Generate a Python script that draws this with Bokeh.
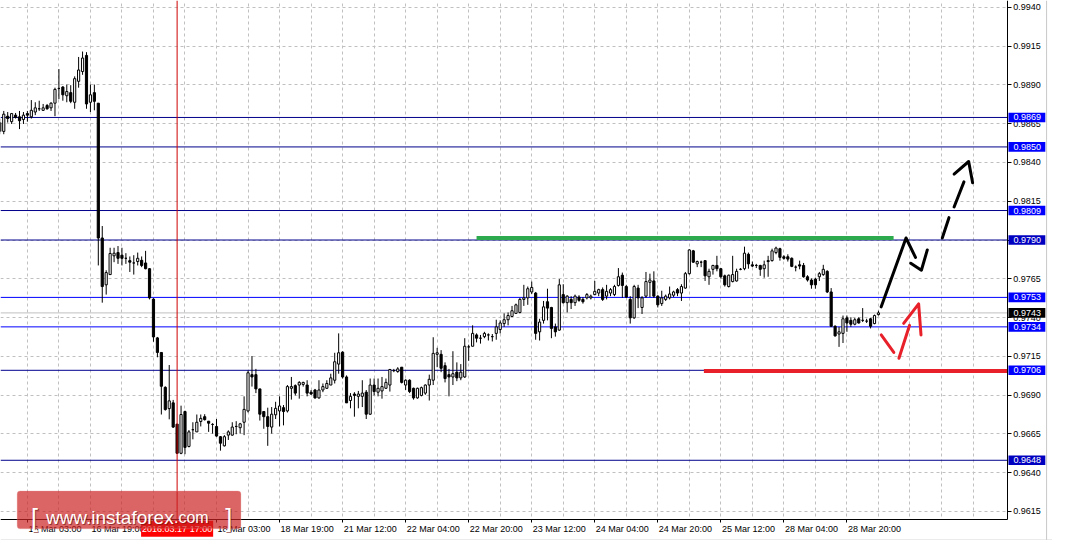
from bokeh.plotting import figure
from bokeh.models import FixedTicker, Span, Label, BoxAnnotation, PrintfTickFormatter
from bokeh.embed import file_html
from bokeh.resources import INLINE

# ---------------- data (USD/CHF H1, 15-29 Mar 2016) ----------------
open_ = [0.98657, 0.98600, 0.98698, 0.98663, 0.98705, 0.98694, 0.98677, 0.98715, 0.98694, 0.98725,
         0.98746, 0.98736, 0.98767, 0.98752, 0.98782, 0.98877, 0.98886, 0.98830, 0.98850, 0.98788,
         0.98923, 0.98986, 0.99090, 0.98788, 0.98850, 0.98782, 0.97913, 0.97611, 0.97677, 0.97798,
         0.97819, 0.97802, 0.97782, 0.97767, 0.97752, 0.97761, 0.97769, 0.97752, 0.97715, 0.97519,
         0.97269, 0.97175, 0.96950, 0.96813, 0.96850, 0.96713, 0.96525, 0.96794, 0.96569, 0.96677,
         0.96663, 0.96730, 0.96761, 0.96732, 0.96711, 0.96698, 0.96632, 0.96573, 0.96642, 0.96642,
         0.96698, 0.96690, 0.96725, 0.96798, 0.97032, 0.97032, 0.96940, 0.96794, 0.96761, 0.96694,
         0.96773, 0.96798, 0.96819, 0.96798, 0.96944, 0.96961, 0.96965, 0.96969, 0.96965, 0.96919,
         0.96933, 0.96882, 0.96933, 0.96944, 0.96965, 0.96996, 0.97100, 0.97177, 0.97017, 0.96865,
         0.96907, 0.96892, 0.96892, 0.96919, 0.96777, 0.96965, 0.96919, 0.96927, 0.96944, 0.96965,
         0.97058, 0.97052, 0.97080, 0.96965, 0.96996, 0.96944, 0.96882, 0.96898, 0.96913, 0.96965,
         0.96996, 0.97163, 0.97163, 0.97090, 0.97032, 0.97017, 0.97048, 0.97011, 0.97017, 0.97211,
         0.97215, 0.97288, 0.97267, 0.97277, 0.97288, 0.97277, 0.97298, 0.97323, 0.97361, 0.97386,
         0.97407, 0.97427, 0.97433, 0.97517, 0.97527, 0.97565, 0.97558, 0.97308, 0.97382, 0.97502,
         0.97465, 0.97340, 0.97319, 0.97548, 0.97496, 0.97517, 0.97496, 0.97532, 0.97517, 0.97527,
         0.97527, 0.97548, 0.97558, 0.97580, 0.97538, 0.97558, 0.97548, 0.97607, 0.97673, 0.97600,
         0.97517, 0.97398, 0.97590, 0.97465, 0.97538, 0.97627, 0.97636, 0.97538, 0.97490, 0.97517,
         0.97527, 0.97544, 0.97580, 0.97558, 0.97590, 0.97683, 0.97830, 0.97746, 0.97757, 0.97767,
         0.97663, 0.97711, 0.97736, 0.97715, 0.97669, 0.97600, 0.97632, 0.97636, 0.97711, 0.97715,
         0.97808, 0.97740, 0.97736, 0.97736, 0.97715, 0.97767, 0.97767, 0.97819, 0.97844, 0.97792,
         0.97792, 0.97782, 0.97725, 0.97740, 0.97736, 0.97663, 0.97642, 0.97648, 0.97663, 0.97677,
         0.97698, 0.97565, 0.97344, 0.97294, 0.97298, 0.97398, 0.97382, 0.97357, 0.97392, 0.97382,
         0.97377, 0.97392, 0.97361, 0.97419]

high_ = [0.98682, 0.98732, 0.98725, 0.98719, 0.98719, 0.98732, 0.98725, 0.98732, 0.98802, 0.98788,
         0.98798, 0.98777, 0.98777, 0.98788, 0.98882, 0.99002, 0.98892, 0.98902, 0.98898, 0.98955,
         0.99080, 0.99115, 0.99111, 0.98902, 0.98902, 0.98782, 0.97990, 0.97705, 0.97850, 0.97850,
         0.97861, 0.97850, 0.97815, 0.97794, 0.97802, 0.97819, 0.97794, 0.97830, 0.97719, 0.97525,
         0.97275, 0.97175, 0.96957, 0.97094, 0.96869, 0.96713, 0.96832, 0.96800, 0.96675, 0.96725,
         0.96775, 0.96775, 0.96777, 0.96732, 0.96719, 0.96746, 0.96636, 0.96642, 0.96673, 0.96725,
         0.96732, 0.96721, 0.96892, 0.97058, 0.97152, 0.97069, 0.96940, 0.96794, 0.96819, 0.96823,
         0.96857, 0.96892, 0.96836, 0.96965, 0.97017, 0.96969, 0.96990, 0.96986, 0.96996, 0.96933,
         0.96940, 0.96996, 0.96975, 0.96996, 0.97038, 0.97173, 0.97298, 0.97183, 0.97027, 0.96913,
         0.96919, 0.96927, 0.96996, 0.96933, 0.97007, 0.97007, 0.97007, 0.97017, 0.97007, 0.97069,
         0.97069, 0.97080, 0.97080, 0.97002, 0.97002, 0.96948, 0.96948, 0.96955, 0.96969, 0.97032,
         0.97273, 0.97205, 0.97190, 0.97111, 0.97069, 0.97183, 0.97111, 0.97100, 0.97267, 0.97225,
         0.97350, 0.97298, 0.97288, 0.97308, 0.97298, 0.97294, 0.97386, 0.97382, 0.97427, 0.97433,
         0.97475, 0.97490, 0.97527, 0.97611, 0.97600, 0.97632, 0.97565, 0.97392, 0.97507, 0.97586,
         0.97469, 0.97361, 0.97648, 0.97615, 0.97544, 0.97538, 0.97548, 0.97544, 0.97532, 0.97558,
         0.97548, 0.97636, 0.97586, 0.97594, 0.97611, 0.97590, 0.97611, 0.97719, 0.97690, 0.97611,
         0.97538, 0.97611, 0.97611, 0.97538, 0.97694, 0.97683, 0.97698, 0.97544, 0.97573, 0.97548,
         0.97600, 0.97573, 0.97590, 0.97615, 0.97694, 0.97840, 0.97836, 0.97767, 0.97767, 0.97767,
         0.97715, 0.97740, 0.97798, 0.97719, 0.97677, 0.97677, 0.97798, 0.97715, 0.97719, 0.97857,
         0.97819, 0.97761, 0.97746, 0.97740, 0.97767, 0.97798, 0.97844, 0.97857, 0.97850, 0.97802,
         0.97808, 0.97788, 0.97736, 0.97767, 0.97752, 0.97673, 0.97652, 0.97657, 0.97694, 0.97740,
         0.97705, 0.97590, 0.97350, 0.97340, 0.97413, 0.97413, 0.97402, 0.97398, 0.97402, 0.97461,
         0.97392, 0.97398, 0.97419, 0.97444]

low_ = [0.98582, 0.98582, 0.98657, 0.98648, 0.98683, 0.98615, 0.98648, 0.98663, 0.98683, 0.98705,
        0.98732, 0.98732, 0.98740, 0.98732, 0.98698, 0.98808, 0.98798, 0.98788, 0.98782, 0.98746,
        0.98882, 0.98965, 0.98746, 0.98725, 0.98736, 0.97736, 0.97496, 0.97548, 0.97677, 0.97757,
        0.97746, 0.97736, 0.97746, 0.97694, 0.97677, 0.97736, 0.97725, 0.97711, 0.97517, 0.97244,
        0.97144, 0.96775, 0.96800, 0.96744, 0.96688, 0.96522, 0.96519, 0.96519, 0.96563, 0.96615,
        0.96663, 0.96698, 0.96736, 0.96663, 0.96652, 0.96632, 0.96542, 0.96569, 0.96611, 0.96638,
        0.96648, 0.96652, 0.96642, 0.96788, 0.96955, 0.96913, 0.96736, 0.96683, 0.96573, 0.96652,
        0.96746, 0.96698, 0.96705, 0.96788, 0.96871, 0.96898, 0.96877, 0.96955, 0.96892, 0.96902,
        0.96877, 0.96877, 0.96919, 0.96940, 0.96965, 0.96975, 0.97038, 0.97007, 0.96850, 0.96815,
        0.96761, 0.96815, 0.96823, 0.96746, 0.96773, 0.96898, 0.96892, 0.96877, 0.96940, 0.96923,
        0.97048, 0.97044, 0.96975, 0.96933, 0.96913, 0.96871, 0.96877, 0.96892, 0.96902, 0.96865,
        0.96965, 0.97080, 0.97048, 0.96982, 0.96892, 0.96965, 0.96990, 0.96996, 0.97011, 0.97121,
        0.97215, 0.97240, 0.97232, 0.97267, 0.97252, 0.97246, 0.97257, 0.97298, 0.97340, 0.97350,
        0.97407, 0.97423, 0.97427, 0.97475, 0.97482, 0.97552, 0.97257, 0.97252, 0.97361, 0.97382,
        0.97267, 0.97277, 0.97315, 0.97490, 0.97433, 0.97455, 0.97475, 0.97502, 0.97490, 0.97517,
        0.97517, 0.97544, 0.97538, 0.97507, 0.97517, 0.97538, 0.97538, 0.97600, 0.97527, 0.97527,
        0.97361, 0.97392, 0.97461, 0.97423, 0.97527, 0.97532, 0.97527, 0.97465, 0.97475, 0.97507,
        0.97517, 0.97532, 0.97538, 0.97507, 0.97586, 0.97677, 0.97752, 0.97725, 0.97725, 0.97636,
        0.97611, 0.97677, 0.97698, 0.97652, 0.97600, 0.97594, 0.97627, 0.97632, 0.97705, 0.97705,
        0.97715, 0.97725, 0.97719, 0.97669, 0.97657, 0.97663, 0.97761, 0.97808, 0.97767, 0.97773,
        0.97761, 0.97725, 0.97698, 0.97711, 0.97657, 0.97632, 0.97586, 0.97586, 0.97636, 0.97669,
        0.97558, 0.97340, 0.97277, 0.97211, 0.97236, 0.97308, 0.97340, 0.97350, 0.97361, 0.97371,
        0.97365, 0.97330, 0.97357, 0.97413]

close_ = [0.98600, 0.98711, 0.98683, 0.98715, 0.98690, 0.98669, 0.98705, 0.98705, 0.98736, 0.98752,
          0.98746, 0.98752, 0.98746, 0.98782, 0.98871, 0.98877, 0.98836, 0.98857, 0.98794, 0.98940,
          0.98996, 0.99073, 0.98777, 0.98836, 0.98794, 0.97913, 0.97600, 0.97690, 0.97813, 0.97815,
          0.97782, 0.97782, 0.97782, 0.97757, 0.97752, 0.97782, 0.97736, 0.97715, 0.97527, 0.97275,
          0.97175, 0.96957, 0.96807, 0.96863, 0.96694, 0.96525, 0.96775, 0.96563, 0.96663, 0.96677,
          0.96725, 0.96750, 0.96742, 0.96719, 0.96711, 0.96636, 0.96590, 0.96632, 0.96663, 0.96694,
          0.96698, 0.96715, 0.96808, 0.97044, 0.97017, 0.96940, 0.96777, 0.96761, 0.96698, 0.96777,
          0.96815, 0.96830, 0.96794, 0.96955, 0.96955, 0.96913, 0.96982, 0.96982, 0.96913, 0.96907,
          0.96882, 0.96933, 0.96955, 0.96975, 0.97011, 0.97115, 0.97173, 0.97017, 0.96850, 0.96892,
          0.96898, 0.96907, 0.96913, 0.96777, 0.96965, 0.96923, 0.96944, 0.96955, 0.96982, 0.97065,
          0.97058, 0.97069, 0.96982, 0.96996, 0.96923, 0.96882, 0.96944, 0.96948, 0.96965, 0.97002,
          0.97169, 0.97173, 0.97073, 0.97007, 0.97017, 0.97038, 0.97011, 0.97048, 0.97215, 0.97211,
          0.97298, 0.97267, 0.97267, 0.97298, 0.97288, 0.97277, 0.97340, 0.97365, 0.97386, 0.97413,
          0.97444, 0.97482, 0.97517, 0.97527, 0.97586, 0.97594, 0.97298, 0.97371, 0.97469, 0.97461,
          0.97330, 0.97308, 0.97611, 0.97496, 0.97538, 0.97496, 0.97538, 0.97511, 0.97502, 0.97548,
          0.97538, 0.97569, 0.97580, 0.97517, 0.97569, 0.97580, 0.97600, 0.97663, 0.97607, 0.97532,
          0.97398, 0.97600, 0.97527, 0.97527, 0.97632, 0.97642, 0.97538, 0.97482, 0.97527, 0.97538,
          0.97552, 0.97565, 0.97558, 0.97600, 0.97683, 0.97836, 0.97757, 0.97761, 0.97757, 0.97669,
          0.97698, 0.97736, 0.97715, 0.97663, 0.97611, 0.97673, 0.97677, 0.97698, 0.97711, 0.97815,
          0.97746, 0.97732, 0.97736, 0.97711, 0.97740, 0.97761, 0.97830, 0.97848, 0.97788, 0.97782,
          0.97777, 0.97730, 0.97725, 0.97732, 0.97663, 0.97642, 0.97611, 0.97611, 0.97683, 0.97711,
          0.97565, 0.97344, 0.97282, 0.97308, 0.97392, 0.97365, 0.97357, 0.97386, 0.97365, 0.97382,
          0.97377, 0.97344, 0.97413, 0.97430]

time_tick_bars = [7, 23, 39, 55, 71, 87, 103, 119, 135, 151, 167, 183, 199, 215]
time_tick_labels = ["16 Mar 03:00", "16 Mar 19:00", "17 Mar 11:00", "18 Mar 03:00", "18 Mar 19:00",
                    "21 Mar 12:00", "22 Mar 04:00", "22 Mar 20:00", "23 Mar 12:00", "24 Mar 04:00",
                    "24 Mar 20:00", "25 Mar 12:00", "28 Mar 04:00", "28 Mar 20:00"]
price_ticks = [0.9615, 0.9640, 0.9665, 0.9690, 0.9715, 0.9740, 0.9765, 0.9790,
               0.9815, 0.9840, 0.9865, 0.9890, 0.9915, 0.9940]

level_prices = [0.9869, 0.9850, 0.9809, 0.9790, 0.9753, 0.9734, 0.9706, 0.9648]
level_line_colors = ["#00008C", "#00008C", "#00008C", "#00008C", "#0000FF", "#0000FF", "#00008C", "#00008C"]
level_box_colors = ["#0000FF", "#0000FF", "#0000FF", "#0000C0", "#0000FF", "#0000FF", "#0000FF", "#0000C0"]
current_price = 0.9743
crosshair_bar = 45
crosshair_text = "2016.03.17 17:00"

resistance_bars = [121.0, 226.85]
resistance_price = [0.97913, 0.97913]
support_bars = [178.7, 255.675]
support_price = [0.97055, 0.97055]

bull_x = [[223.7, 230.0, 232.4], [231.2, 233.9, 235.4],
          [239.2, 240.9], [242.2, 244.7], [242.2, 245.9, 246.9]]
bull_y = [[0.97469, 0.97913, 0.97788], [0.97750, 0.97705, 0.97836],
          [0.97913, 0.98044], [0.98113, 0.98275], [0.98325, 0.98406, 0.98269]]
bear_x = [[223.7, 226.9], [228.2, 230.9], [229.4, 233.2, 233.8]]
bear_y = [[0.97288, 0.97175], [0.97138, 0.97350], [0.97363, 0.97488, 0.97288]]

# ---------------- figure ----------------
FONT = "Liberation Sans"
# whole canvas is the frame; the chart area ends at CX (right) and CY (bottom)
X0, XEND = 0.175, 267.175
Y0, YEND = 0.9596275, 0.99444
CX, CY = 255.675, 0.96100

p = figure(width=1052, height=540, x_range=(X0, XEND), y_range=(Y0, YEND),
           output_backend="svg", toolbar_location=None, y_axis_location="right", title=None,
           min_border=0, background_fill_color="white", border_fill_color="white",
           outline_line_color=None)

# grid
p.xgrid[0].ticker = FixedTicker(ticks=list(range(7, 255, 8)))
for g in (p.xgrid[0], p.ygrid[0]):
    g.grid_line_color = "#c0c0c0"
    g.grid_line_dash = "3 3"
    g.grid_line_width = 1

# price axis (right side of the chart area)
ya = p.yaxis[0]
ya.fixed_location = CX
ya.bounds = (CY, YEND)
ya.ticker = FixedTicker(ticks=price_ticks)
ya.formatter = PrintfTickFormatter(format="%.4f")
ya.axis_line_color = "black"
ya.major_tick_line_color = "black"
ya.major_tick_out = 4
ya.major_tick_in = 0
ya.minor_tick_line_color = None
ya.major_label_standoff = 2
ya.major_label_text_font = FONT
ya.major_label_text_font_size = "9px"
ya.major_label_text_color = "black"

# time axis: labels centred just after each tick mark (MT4 style)
xa = p.xaxis[0]
xa.fixed_location = CY
xa.bounds = (X0, CX)
label_centres = [b + 7 for b in time_tick_bars]
xa.ticker = FixedTicker(ticks=label_centres, minor_ticks=time_tick_bars)
xa.major_label_overrides = {c: t for c, t in zip(label_centres, time_tick_labels)}
xa.axis_line_color = "black"
xa.major_tick_line_color = None
xa.major_tick_out = 0
xa.major_tick_in = 0
xa.minor_tick_line_color = "black"
xa.minor_tick_out = 3
xa.minor_tick_in = 0
xa.major_label_standoff = 2
xa.major_label_text_font = FONT
xa.major_label_text_font_size = "9px"
xa.major_label_text_color = "black"

# level lines (behind candles)
for lp, lc in zip(level_prices, level_line_colors):
    p.add_layout(Span(location=lp, dimension="width", line_color=lc, line_width=1, level="underlay"))
p.add_layout(Span(location=current_price, dimension="width", line_color="#c0c0c0",
                  line_width=1, level="underlay"))

# blank the axis areas (outside the chart area)
p.quad(left=[CX], right=[XEND], bottom=[Y0], top=[YEND], fill_color="white", line_color=None)
p.quad(left=[X0], right=[CX], bottom=[Y0], top=[CY], fill_color="white", line_color=None)
# window separators
p.segment(x0=[265.675], y0=[Y0], x1=[265.675], y1=[YEND], line_color="#c8c8c8", line_width=1)
p.segment(x0=[X0], y0=[0.959655], x1=[XEND], y1=[0.959655], line_color="#d0d0d0", line_width=1)

# candles
idx = list(range(len(close_)))
up = [i for i in idx if close_[i] > open_[i]]
dn = [i for i in idx if close_[i] <= open_[i]]
p.segment(x0=idx, y0=low_, x1=idx, y1=high_, line_color="black", line_width=1)
p.vbar(x=up, width=0.55, bottom=[open_[i] for i in up], top=[close_[i] for i in up],
       fill_color="white", line_color="black", line_width=1)
p.vbar(x=dn, width=0.55, top=[open_[i] for i in dn], bottom=[close_[i] for i in dn],
       fill_color="black", line_color="black", line_width=1)

# drawn levels & forecast arrows
p.line(resistance_bars, resistance_price, line_color="#2eaa4e", line_width=4)
p.line(support_bars, support_price, line_color="#e8202a", line_width=4)
p.multi_line(bull_x, bull_y, line_color="black", line_width=3, line_cap="round", line_join="round")
p.multi_line(bear_x, bear_y, line_color="#e8202a", line_width=3, line_cap="round", line_join="round")

# crosshair (down to the time label)
p.segment(x0=[crosshair_bar], y0=[0.96075], x1=[crosshair_bar], y1=[YEND],
          line_color="#d00000", line_width=1)

# price labels on the axis (coloured boxes with white text)
BOX_L, BOX_R, HALF_H = 256.0, 265.35, 0.00031
LX = 257.25
for lp, bc in zip(level_prices + [current_price], level_box_colors + ["#000000"]):
    p.add_layout(BoxAnnotation(left=BOX_L, right=BOX_R, bottom=lp - HALF_H, top=lp + HALF_H,
                               fill_color=bc, fill_alpha=1.0, line_color=None))
    p.add_layout(Label(x=LX, y=lp, text=f"{lp:.4f}", text_font=FONT, text_font_size="9px",
                       text_color="white", text_align="left", text_baseline="middle"))

# crosshair time label
p.add_layout(Label(x=crosshair_bar, y=0.96038, text=crosshair_text, text_font=FONT,
                   text_font_size="9px", text_color="white", text_align="center",
                   text_baseline="middle", background_fill_color="#ff0000", padding=(1, 3)))

# watermark
p.add_layout(BoxAnnotation(left=4.4, right=61.2, top=0.96282, bottom=0.96038,
                           fill_color="#cc2222", fill_alpha=0.7, line_color="#e8a0a0",
                           line_width=1, border_radius=3))
WF = "Liberation Sans"
for (tx, txt, fs) in [(7.9, "[", "25px"), (11.7, "www.instaforex", "19px"),
                      (44.2, ".com", "16px"), (57.2, "]", "25px")]:
    p.add_layout(Label(x=tx, y=0.96110, text=txt, text_font=WF, text_font_size=fs,
                       text_color="#6a1010", text_alpha=0.6, text_baseline="alphabetic",
                       x_offset=1, y_offset=-1))
    p.add_layout(Label(x=tx, y=0.96110, text=txt, text_font=WF, text_font_size=fs,
                       text_color="white", text_baseline="alphabetic"))

open("out.html", "w").write(file_html(p, INLINE))
